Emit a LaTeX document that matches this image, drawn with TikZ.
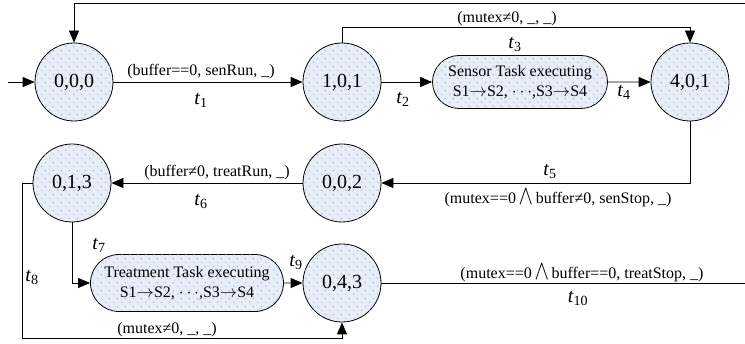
\documentclass[tikz,border=0pt]{standalone}
\usepackage{fontspec}
\setmainfont{Liberation Serif}
\usepackage{graphicx}
\usetikzlibrary{arrows.meta,patterns.meta,shapes.misc}

\definecolor{stfill}{HTML}{E8EEF8}
\definecolor{stdots}{HTML}{A9BCDF}

% staggered light dots used inside states and task boxes
\tikzdeclarepattern{
  name=softdots,
  type=uncolored,
  bounding box={(0pt,0pt) and (8pt,8pt)},
  tile size={(8pt,8pt)},
  code={
    \pgfpathcircle{\pgfpoint{2pt}{2pt}}{0.9pt}
    \pgfpathcircle{\pgfpoint{6pt}{6pt}}{0.9pt}
    \pgfusepath{fill}
  }
}

\newcommand\tlab[1]{\textit{t}\textsubscript{#1}}
\newcommand\andop{\,\raisebox{-0.5pt}{\scalebox{1.25}[1.6]{$\wedge$}}\,}
\newcommand\seqarrow{$\rightarrow$}
\newcommand\steps{S1\seqarrow S2, $\cdots$,S3\seqarrow S4}

\tikzset{
  place/.style={circle, draw, line width=0.8pt, minimum size=78pt, inner sep=0pt,
    font=\fontsize{20}{24}\selectfont, fill=stfill,
    postaction={pattern=softdots, pattern color=stdots}},
  taskbox/.style={rounded rectangle, draw, line width=0.8pt, align=center,
    inner sep=0pt, font=\fontsize{16}{20}\selectfont, fill=stfill,
    postaction={pattern=softdots, pattern color=stdots}},
  cond/.style={font=\fontsize{16}{19}\selectfont, inner sep=1pt},
  tl/.style={font=\fontsize{20}{24}\selectfont, inner sep=1pt},
  flow/.style={-{Triangle[length=12pt,width=10pt]}, line width=0.8pt}
}

\begin{document}
\begin{tikzpicture}[x=1pt,y=-1pt]
\useasboundingbox (0,0) rectangle (745,344);
\clip (0,0) rectangle (745,344);

% states
\node[place] (s000) at (74,82) {0,0,0};
\node[place] (s101) at (342,82) {1,0,1};
\node[place] (s401) at (690,82) {4,0,1};
\node[place] (s002) at (342,183) {0,0,2};
\node[place] (s013) at (72,183) {0,1,3};
\node[place] (s043) at (342,283) {0,4,3};

% task execution boxes
\node[taskbox, minimum width=175pt, minimum height=53pt] (sens) at (520,82)
  {Sensor Task executing\\\steps};
\node[taskbox, minimum width=193pt, minimum height=57pt] (treat) at (187,283)
  {Treatment Task executing\\\steps};

% free ends of connectors
\coordinate (start) at (8,82);
\coordinate (loopR) at (760,283);

% initial arrow
\draw[flow] (start) -- (s000);

% t1
\draw[flow] (s000) -- (s101);
\node[cond] (c1) at (201,72) {(buffer==0, senRun, \_)};
\node[tl] (l1) at (201,100) {\tlab{1}};

% t2
\draw[flow] (s101) -- (sens);
\node[tl] (l2) at (403,99) {\tlab{2}};

% t3
\draw[flow] (s101.north) |- (690,27) -- (s401.north);
\node[cond] (c3) at (507,19) {(mutex≠0, \_, \_)};
\node[tl] (l3) at (515,44) {\tlab{3}};

% t4
\draw[flow] (sens) -- (s401);
\node[tl] (l4) at (624,92) {\tlab{4}};

% t5
\draw[flow] (s401.south) |- (s002.east);
\node[tl] (l5) at (550,171) {\tlab{5}};
\node[cond] (c5) at (558,198) {(mutex==0\andop buffer≠0, senStop, \_)};

% t6
\draw[flow] (s002) -- (s013);
\node[cond] (c6) at (217,173) {(buffer≠0, treatRun, \_)};
\node[tl] (l6) at (201,201) {\tlab{6}};

% t7
\draw[flow] (s013.south) |- (treat.west);
\node[tl] (l7) at (99,245) {\tlab{7}};

% t8
\draw[flow] (s013.west) -| (22,338) -| (s043.south);
\node[tl] (l8) at (32,277) {\tlab{8}};
\node[cond] (c8) at (167,330) {(mutex≠0, \_, \_)};

% t9
\draw[flow] (treat) -- (s043);
\node[tl] (l9) at (296,262) {\tlab{9}};

% t10, returning to the initial state
\draw[flow] (s043.east) -- (loopR) |- (74,3) -- (s000.north);
\node[cond] (c10) at (582,273) {(mutex==0\andop buffer==0, treatStop, \_)};
\node[tl] (l10) at (578,298) {\tlab{10}};
\end{tikzpicture}
\end{document}
